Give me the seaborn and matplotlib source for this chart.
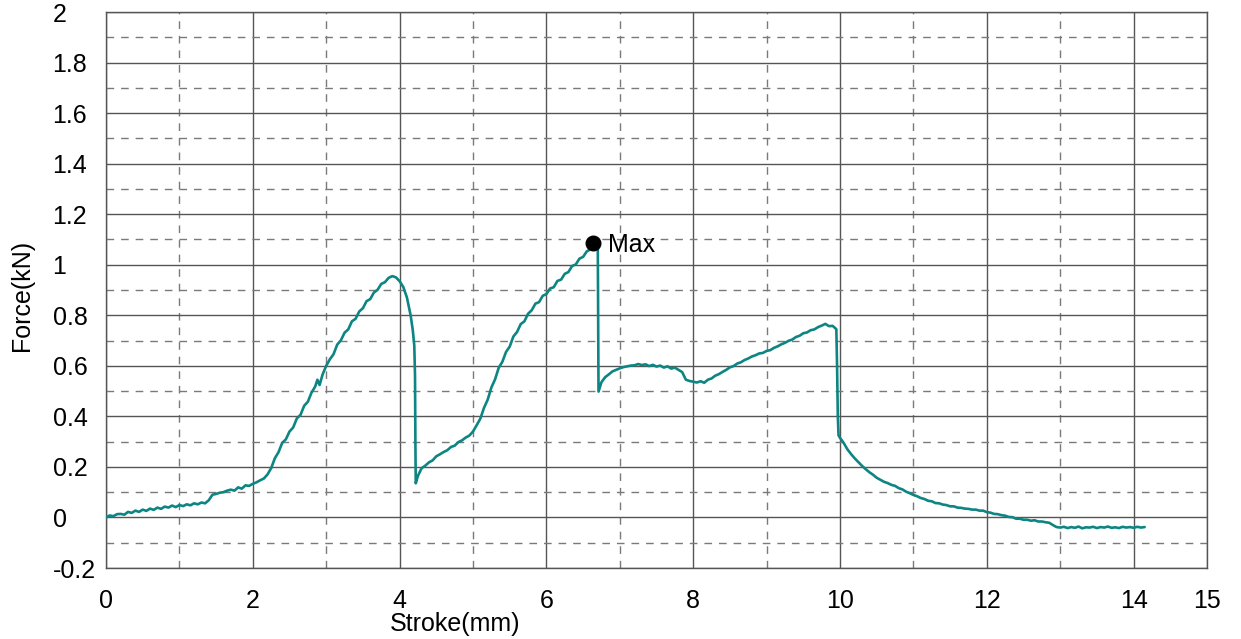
import numpy as np
import pandas as pd
import matplotlib
matplotlib.use("Agg")
import matplotlib.pyplot as plt
import seaborn as sns
from matplotlib.ticker import FuncFormatter

# Stroke (mm) and force (kN) samples of the test record
stroke = [
    0.00, 0.05, 0.10, 0.15, 0.20, 0.25, 0.30, 0.35, 0.40, 0.45, 0.50, 0.55, 0.60, 0.65,
    0.70, 0.75, 0.80, 0.85, 0.90, 0.95, 1.00, 1.05, 1.10, 1.15, 1.20, 1.25, 1.30, 1.35,
    1.40, 1.45, 1.50, 1.55, 1.60, 1.65, 1.70, 1.75, 1.80, 1.85, 1.90, 1.95, 2.00, 2.05,
    2.10, 2.15, 2.20, 2.25, 2.30, 2.35, 2.40, 2.45, 2.50, 2.55, 2.60, 2.65, 2.70, 2.75,
    2.80, 2.85, 2.88, 2.91, 2.95, 3.00, 3.05, 3.10, 3.15, 3.20, 3.25, 3.30, 3.35, 3.40,
    3.45, 3.50, 3.55, 3.60, 3.65, 3.70, 3.75, 3.80, 3.85, 3.90, 3.95, 4.00, 4.05, 4.10,
    4.15, 4.18, 4.20, 4.21, 4.215, 4.22, 4.25, 4.30, 4.35, 4.40, 4.45, 4.50, 4.55, 4.60,
    4.65, 4.70, 4.75, 4.80, 4.85, 4.90, 4.95, 5.00, 5.05, 5.10, 5.15, 5.20, 5.25, 5.30,
    5.35, 5.40, 5.45, 5.50, 5.55, 5.60, 5.65, 5.70, 5.75, 5.80, 5.85, 5.90, 5.95, 6.00,
    6.05, 6.10, 6.15, 6.20, 6.25, 6.30, 6.35, 6.40, 6.45, 6.50, 6.55, 6.60, 6.64, 6.67,
    6.70, 6.71, 6.75, 6.80, 6.85, 6.90, 6.95, 7.00, 7.05, 7.10, 7.15, 7.20, 7.25, 7.30,
    7.35, 7.40, 7.45, 7.50, 7.55, 7.60, 7.65, 7.70, 7.75, 7.80, 7.85, 7.90, 7.95, 8.00,
    8.05, 8.10, 8.15, 8.20, 8.25, 8.30, 8.35, 8.40, 8.45, 8.50, 8.55, 8.60, 8.65, 8.70,
    8.75, 8.80, 8.85, 8.90, 8.95, 9.00, 9.05, 9.10, 9.15, 9.20, 9.25, 9.30, 9.35, 9.40,
    9.45, 9.50, 9.55, 9.60, 9.65, 9.70, 9.75, 9.80, 9.85, 9.90, 9.95, 9.96, 9.97, 9.98,
    10.00, 10.05, 10.10, 10.15, 10.20, 10.25, 10.30, 10.35, 10.40, 10.45, 10.50, 10.55,
    10.60, 10.65, 10.70, 10.75, 10.80, 10.85, 10.90, 10.95, 11.00, 11.05, 11.10, 11.15,
    11.20, 11.25, 11.30, 11.35, 11.40, 11.45, 11.50, 11.55, 11.60, 11.65, 11.70, 11.75,
    11.80, 11.85, 11.90, 11.95, 12.00, 12.05, 12.10, 12.15, 12.20, 12.25, 12.30, 12.35,
    12.40, 12.45, 12.50, 12.55, 12.60, 12.65, 12.70, 12.75, 12.80, 12.85, 12.90, 12.95,
    13.00, 13.05, 13.10, 13.15, 13.20, 13.25, 13.30, 13.35, 13.40, 13.45, 13.50, 13.55,
    13.60, 13.65, 13.70, 13.75, 13.80, 13.85, 13.90, 13.95, 14.00, 14.05, 14.10, 14.15,
]
force = [
    0.000, 0.008, 0.005, 0.013, 0.014, 0.011, 0.022, 0.018, 0.027, 0.022, 0.031, 0.026, 0.035, 0.030,
    0.039, 0.034, 0.043, 0.039, 0.047, 0.041, 0.049, 0.045, 0.052, 0.048, 0.056, 0.052, 0.059, 0.056,
    0.068, 0.090, 0.093, 0.098, 0.100, 0.106, 0.110, 0.106, 0.119, 0.114, 0.127, 0.125, 0.133, 0.139,
    0.147, 0.154, 0.170, 0.195, 0.234, 0.258, 0.295, 0.309, 0.340, 0.356, 0.392, 0.406, 0.442, 0.458,
    0.494, 0.518, 0.545, 0.524, 0.565, 0.600, 0.626, 0.646, 0.684, 0.701, 0.731, 0.744, 0.776, 0.786,
    0.815, 0.828, 0.856, 0.864, 0.890, 0.901, 0.924, 0.931, 0.948, 0.955, 0.950, 0.935, 0.912, 0.870,
    0.800, 0.740, 0.680, 0.560, 0.300, 0.135, 0.165, 0.195, 0.205, 0.218, 0.226, 0.242, 0.250, 0.259,
    0.266, 0.279, 0.284, 0.298, 0.305, 0.316, 0.324, 0.340, 0.365, 0.391, 0.434, 0.466, 0.514, 0.546,
    0.592, 0.616, 0.655, 0.676, 0.716, 0.734, 0.765, 0.776, 0.806, 0.820, 0.846, 0.852, 0.877, 0.884,
    0.906, 0.911, 0.936, 0.941, 0.964, 0.971, 0.995, 1.001, 1.024, 1.031, 1.053, 1.061, 1.085, 1.078,
    1.072, 0.498, 0.535, 0.555, 0.566, 0.578, 0.584, 0.590, 0.595, 0.598, 0.601, 0.602, 0.607, 0.603,
    0.606, 0.599, 0.604, 0.597, 0.601, 0.593, 0.598, 0.589, 0.593, 0.584, 0.575, 0.545, 0.540, 0.537,
    0.534, 0.539, 0.533, 0.545, 0.550, 0.561, 0.567, 0.576, 0.584, 0.594, 0.599, 0.609, 0.614, 0.623,
    0.629, 0.637, 0.642, 0.649, 0.651, 0.659, 0.662, 0.671, 0.677, 0.685, 0.691, 0.699, 0.704, 0.714,
    0.719, 0.729, 0.732, 0.741, 0.744, 0.753, 0.759, 0.766, 0.757, 0.758, 0.745, 0.600, 0.400, 0.325,
    0.315, 0.295, 0.270, 0.251, 0.234, 0.219, 0.204, 0.191, 0.179, 0.169, 0.157, 0.149,
    0.141, 0.136, 0.129, 0.125, 0.116, 0.111, 0.102, 0.096, 0.089, 0.084, 0.077, 0.073,
    0.066, 0.064, 0.057, 0.056, 0.051, 0.049, 0.044, 0.044, 0.039, 0.038, 0.035, 0.034,
    0.031, 0.031, 0.027, 0.027, 0.021, 0.019, 0.014, 0.013, 0.009, 0.007, 0.002, 0.001,
    -0.005, -0.005, -0.009, -0.009, -0.013, -0.011, -0.016, -0.016, -0.019, -0.021, -0.030, -0.038,
    -0.040, -0.037, -0.042, -0.038, -0.041, -0.036, -0.043, -0.039, -0.040, -0.037, -0.042, -0.038,
    -0.040, -0.036, -0.041, -0.039, -0.042, -0.037, -0.040, -0.038, -0.041, -0.037, -0.040, -0.038,
]

x_major = [0, 2, 4, 6, 8, 10, 12, 14, 15]
x_minor = [1, 3, 5, 7, 9, 11, 13]
y_major = [-0.2, 0.0, 0.2, 0.4, 0.6, 0.8, 1.0, 1.2, 1.4, 1.6, 1.8, 2.0]
y_minor = [-0.1, 0.1, 0.3, 0.5, 0.7, 0.9, 1.1, 1.3, 1.5, 1.7, 1.9]

df = pd.DataFrame({"stroke": stroke, "force": force})

sns.set_theme(style="white")
plt.rcParams["font.family"] = ["Liberation Sans", "DejaVu Sans"]

fig = plt.figure(figsize=(12.41, 6.39), dpi=100)
ax = fig.add_axes([0.08542, 0.11111, 0.88719, 0.87011])

line_color = "#0d8582"
sns.lineplot(data=df, x="stroke", y="force", sort=False, estimator=None,
             color=line_color, linewidth=1.9, ax=ax, zorder=3)

# Peak marker
i_max = int(np.argmax(df["force"].values))
px, py = df["stroke"].iloc[i_max], df["force"].iloc[i_max]
ax.plot([px], [py], "o", color="black", markersize=10.5, zorder=4)
ax.annotate("Max", xy=(px, py), xytext=(10.5, -1), textcoords="offset points",
            va="center", ha="left", fontsize=18, color="black")

ax.set_xlim(0, 15)
ax.set_ylim(-0.2, 2.0)
ax.set_xticks(x_major)
ax.set_xticks(x_minor, minor=True)
ax.set_yticks(y_major)
ax.set_yticks(y_minor, minor=True)
ax.yaxis.set_major_formatter(FuncFormatter(lambda v, _: f"{v:g}" if abs(v) > 1e-9 else "0"))

ax.set_axisbelow(True)
ax.grid(which="major", color="#555555", linewidth=1.0, linestyle="-")
ax.grid(which="minor", color="#7a7a7a", linewidth=1.0, linestyle=(0, (5.5, 5.0)))
for s in ax.spines.values():
    s.set_color("#555555")
    s.set_linewidth(1.0)

ax.tick_params(which="both", length=0)
ax.tick_params(axis="x", pad=15, labelsize=18, colors="black")
ax.tick_params(axis="y", pad=38.5, labelsize=18, colors="black")
for lab in ax.get_yticklabels():
    lab.set_horizontalalignment("left")

ax.set_xlabel("Stroke(mm)", fontsize=18, color="black")
ax.set_ylabel("Force(kN)", fontsize=18, color="black")
ax.xaxis.set_label_coords(0.317, -0.1)
ax.xaxis.label.set_verticalalignment("center")
ax.yaxis.set_label_coords(-0.0763, 0.49)
ax.yaxis.label.set_verticalalignment("center")

fig.savefig("out.png", dpi=100)
